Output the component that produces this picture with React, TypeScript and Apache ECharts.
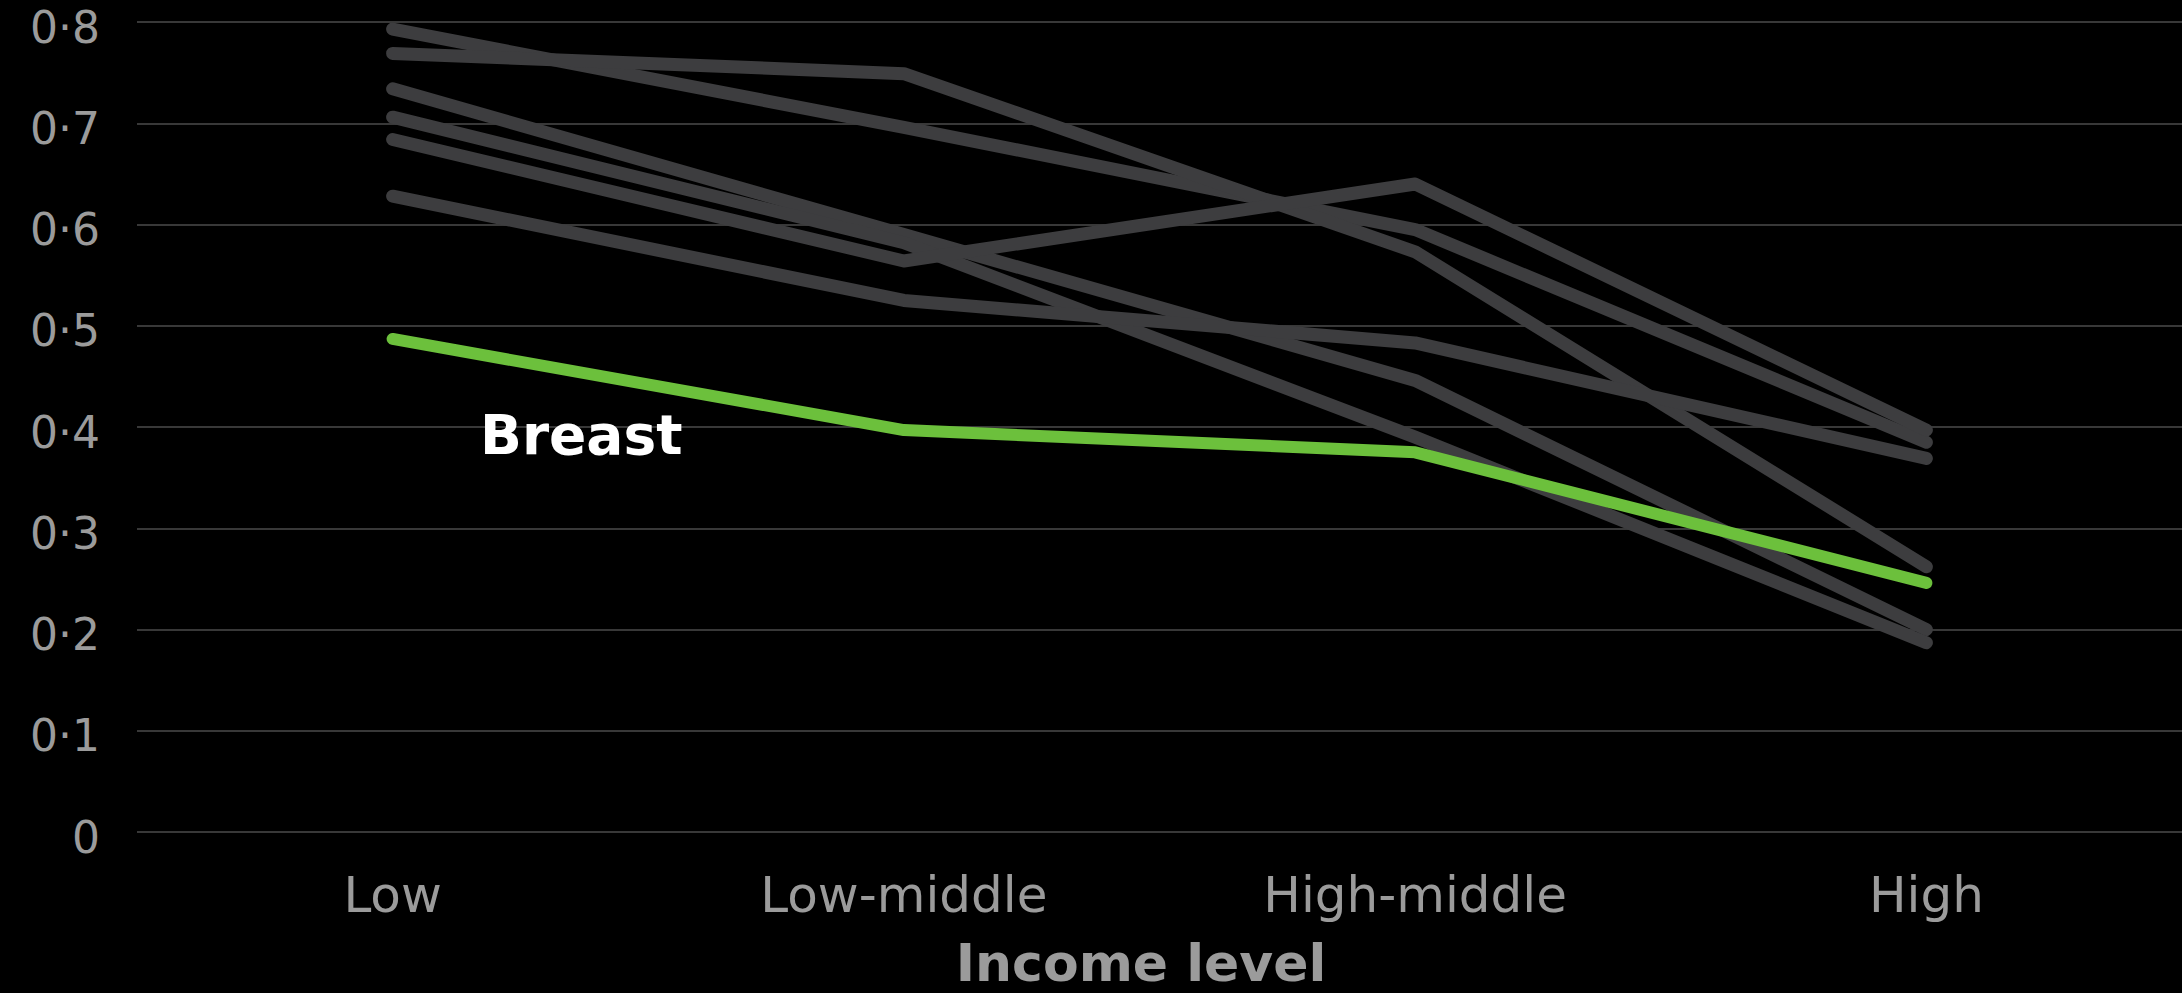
import React, { useEffect, useRef } from "react";
import * as echarts from "echarts";

const categories = ["Low", "Low-middle", "High-middle", "High"];
const yTicks = [0, 0.1, 0.2, 0.3, 0.4, 0.5, 0.6, 0.7, 0.8];

const greySeriesA = [0.793, 0.696, 0.595, 0.385];
const greySeriesB = [0.769, 0.749, 0.573, 0.262];
const greySeriesC = [0.734, 0.59, 0.446, 0.2];
const greySeriesD = [0.706, 0.582, 0.39, 0.187];
const greySeriesE = [0.684, 0.564, 0.64, 0.397];
const greySeriesF = [0.628, 0.525, 0.483, 0.369];
const breast = [0.487, 0.397, 0.375, 0.246];

const greyLines = [greySeriesA, greySeriesB, greySeriesC, greySeriesD, greySeriesE, greySeriesF];

const GREY = "#3d3d3f";
const GREEN = "#6cc03c";
const LABEL = "#9b9b9b";
const FONT = "DejaVu Sans";

export default function App() {
  const ref = useRef<HTMLDivElement>(null);

  useEffect(() => {
    document.body.style.margin = "0";
    document.body.style.background = "#000";
    if (!ref.current) return;
    const chart = echarts.init(ref.current, null, { renderer: "svg" });

    const series: any[] = greyLines.map((d, i) => ({
      type: "line",
      name: "cancer " + (i + 1),
      data: d,
      showSymbol: false,
      symbol: "none",
      z: 2,
      lineStyle: { color: GREY, width: 13, cap: "round", join: "round" },
    }));
    series.push({
      type: "line",
      name: "Breast",
      data: breast,
      showSymbol: false,
      symbol: "none",
      z: 5,
      lineStyle: { color: GREEN, width: 12, cap: "round", join: "round" },
    });

    chart.setOption({
      animation: false,
      backgroundColor: "#000",
      grid: { left: 137, right: 0, top: 22, bottom: 161, containLabel: false },
      xAxis: {
        type: "category",
        data: categories,
        boundaryGap: true,
        axisLine: { show: false },
        axisTick: { show: false },
        axisLabel: {
          color: LABEL,
          fontFamily: FONT,
          fontSize: 50,
          margin: 38,
        },
      },
      yAxis: {
        type: "value",
        min: yTicks[0],
        max: yTicks[yTicks.length - 1],
        interval: 0.1,
        axisLine: { show: false },
        axisTick: { show: false },
        splitLine: { lineStyle: { color: "#383838", width: 2 } },
        axisLabel: {
          color: LABEL,
          fontFamily: FONT,
          fontSize: 44,
          margin: 37,
          verticalAlign: "top",
          lineHeight: 10,
          formatter: (v: number) =>
            v === 0 ? "0" : (Math.round(v * 10) / 10).toFixed(1).replace(".", "\u00B7"),
        },
      },
      graphic: [
        {
          type: "text",
          left: 480,
          top: 407,
          style: {
            text: "Breast",
            fill: "#ffffff",
            font: `bold 55px "${FONT}"`,
          },
          z: 10,
        },
        {
          type: "text",
          x: 1141,
          y: 963,
          style: {
            text: "Income level",
            fill: LABEL,
            font: `bold 52px "${FONT}"`,
            align: "center",
            verticalAlign: "middle",
          },
          z: 10,
        },
      ],
      series,
    });

    return () => chart.dispose();
  }, []);

  return <div ref={ref} style={{ width: 2182, height: 993, background: "#000" }} />;
}
